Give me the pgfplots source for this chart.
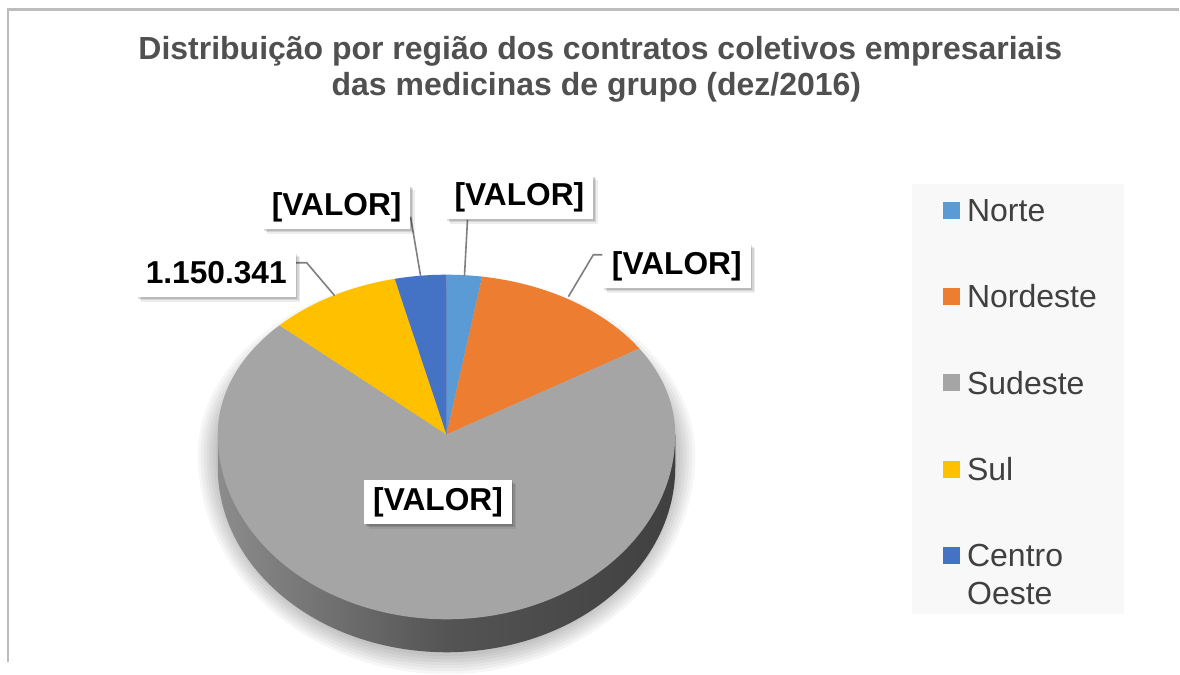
\documentclass[border=0pt]{standalone}
\usepackage{fontspec}
\setmainfont{Liberation Sans}
\usepackage{xfp}
\usepackage{pgfplots}
\usepackage{pgfplotstable}
\pgfplotsset{compat=1.18}
\usetikzlibrary{shadows}

\definecolor{cNorte}{HTML}{5B9BD5}
\definecolor{cNordeste}{HTML}{ED7D31}
\definecolor{cSudeste}{HTML}{A5A5A5}
\definecolor{cSul}{HTML}{FFC000}
\definecolor{cCO}{HTML}{4472C4}
\definecolor{titlegray}{HTML}{505050}
\definecolor{leggray}{HTML}{404040}
\definecolor{legbg}{HTML}{F8F8F8}
\definecolor{framegray}{HTML}{BDBDBD}
\definecolor{sideL}{HTML}{8C8C8C}
\definecolor{sideM}{HTML}{545454}
\definecolor{sideR}{HTML}{404040}
\definecolor{leader}{HTML}{7F7F7F}

% contratos coletivos empresariais por regiao (dez/2016)
\pgfplotstableread{
regiao valor
Norte 305000
Nordeste 1650000
Sudeste 8700000
Sul 1150341
CentroOeste 445000
}\piedata

\tikzset{vlabel/.style={fill=white, text=black,
  font=\bfseries\fontsize{31.7}{37}\selectfont,
  inner xsep=9pt, inner ysep=7.5pt, text height=23pt, text depth=6.5pt,
  drop shadow={shadow xshift=4.5pt, shadow yshift=-4.5pt, opacity=0.07, fill=black},
  drop shadow={shadow xshift=3pt, shadow yshift=-3pt, opacity=0.10, fill=black},
  drop shadow={shadow xshift=1.5pt, shadow yshift=-1.5pt, opacity=0.12, fill=black}}}

\begin{document}
\begin{tikzpicture}
\pgfplotstablegetelem{0}{valor}\of\piedata \edef\vA{\pgfplotsretval}%
\pgfplotstablegetelem{1}{valor}\of\piedata \edef\vB{\pgfplotsretval}%
\pgfplotstablegetelem{2}{valor}\of\piedata \edef\vC{\pgfplotsretval}%
\pgfplotstablegetelem{3}{valor}\of\piedata \edef\vD{\pgfplotsretval}%
\pgfplotstablegetelem{4}{valor}\of\piedata \edef\vE{\pgfplotsretval}%
\edef\tot{\fpeval{\vA+\vB+\vC+\vD+\vE}}%
\edef\aA{\fpeval{round(90-360*\vA/\tot,4)}}%
\edef\aB{\fpeval{round(\aA-360*\vB/\tot,4)}}%
\edef\aC{\fpeval{round(\aB-360*\vC/\tot,4)}}%
\edef\aD{\fpeval{round(\aC-360*\vD/\tot,4)}}%
\edef\aE{\fpeval{round(\aD-360*\vE/\tot,4)}}%
\begin{axis}[
  width=1180pt, height=663pt, scale only axis,
  xmin=0, xmax=1180, ymin=0, ymax=663,
  hide axis, clip=false,
  legend image code/.code={\fill[#1] (0pt,-8.5pt) rectangle (17pt,8.5pt);},
  legend style={at={(axis cs:944,463.5)}, anchor=north west, draw=none, fill=none,
     inner sep=0pt, row sep=63.3pt, column sep=7pt,
     font=\fontsize{32}{38}\selectfont, text=leggray,
     cells={anchor=west}, nodes={inner sep=0pt, text depth=0pt}},
]
% background and frame
\fill[white] (axis cs:0,0) rectangle (axis cs:1180,663);
\draw[framegray, line width=2.6pt] (axis cs:8,0) -- (axis cs:8,653.5) -- (axis cs:1180,653.5);
% legend panel
\fill[legbg] (axis cs:913,48) rectangle (axis cs:1125,479);

% soft shadow around the pie
\pgfplotsinvokeforeach{20,17,14,11,8,5,2}{
\addplot[fill=black, fill opacity=0.035, draw=none, forget plot, domain=0:360, samples=120]
  ({447+(229+#1)*cos(x)},{208+ifthenelse(sin(x)>0,160+#1,200+#1)*sin(x)}) -- cycle;
}
% side of the pie
\addplot[draw=none, forget plot, left color=sideL, right color=sideR, middle color=sideM,
  domain=180:360, samples=120]
  ({447+229*cos(x)},{195+185*sin(x)}) -- (axis cs:676,228) -- (axis cs:218,228) -- cycle;

% top face slices
\addplot[fill=cNorte, draw=none, domain=\aA:90, samples=20]
  ({447+229*cos(x)},{228+ifthenelse(sin(x)>0,160,185)*sin(x)}) -- (axis cs:447,228) -- cycle;
\addlegendentry{Norte}
\addplot[fill=cNordeste, draw=none, domain=\aB:\aA, samples=50]
  ({447+229*cos(x)},{228+ifthenelse(sin(x)>0,160,185)*sin(x)}) -- (axis cs:447,228) -- cycle;
\addlegendentry{Nordeste}
\addplot[fill=cSudeste, draw=none, domain=\aC:\aB, samples=200]
  ({447+229*cos(x)},{228+ifthenelse(sin(x)>0,160,185)*sin(x)}) -- (axis cs:447,228) -- cycle;
\addlegendentry{Sudeste}
\addplot[fill=cSul, draw=none, domain=\aD:\aC, samples=40]
  ({447+229*cos(x)},{228+ifthenelse(sin(x)>0,160,185)*sin(x)}) -- (axis cs:447,228) -- cycle;
\addlegendentry{Sul}
\addplot[fill=cCO, draw=none, domain=\aE:\aD, samples=20]
  ({447+229*cos(x)},{228+ifthenelse(sin(x)>0,160,185)*sin(x)}) -- (axis cs:447,228) -- cycle;
\addlegendentry{\vtop{\baselineskip=38pt\hbox{Centro}\hbox{Oeste}}}

% leader lines
\addplot[leader, line width=1.6pt, no markers, forget plot] coordinates {(296,400) (307,400) (335,367)};
\addplot[leader, line width=1.6pt, no markers, forget plot] coordinates {(411,446) (421,387)};
\addplot[leader, line width=1.6pt, no markers, forget plot] coordinates {(468,443) (465,387)};
\addplot[leader, line width=1.6pt, no markers, forget plot] coordinates {(603,408) (594,408) (569,366)};

% data labels
\node[vlabel] at (axis cs:216.5,387.5) {1.150.341};
\node[vlabel] at (axis cs:337,455.5) {[VALOR]};
\node[vlabel] at (axis cs:520,465.5) {[VALOR]};
\node[vlabel] at (axis cs:677.5,396.5) {[VALOR]};
\node[vlabel] at (axis cs:438.5,160.5) {[VALOR]};

% title
\node[anchor=base, font=\bfseries\fontsize{32}{38}\selectfont, text=titlegray]
  at (axis cs:601,603) {Distribuição por região dos contratos coletivos empresariais};
\node[anchor=base, font=\bfseries\fontsize{32}{38}\selectfont, text=titlegray]
  at (axis cs:597,567) {das medicinas de grupo (dez/2016)};
\end{axis}
\end{tikzpicture}
\end{document}
